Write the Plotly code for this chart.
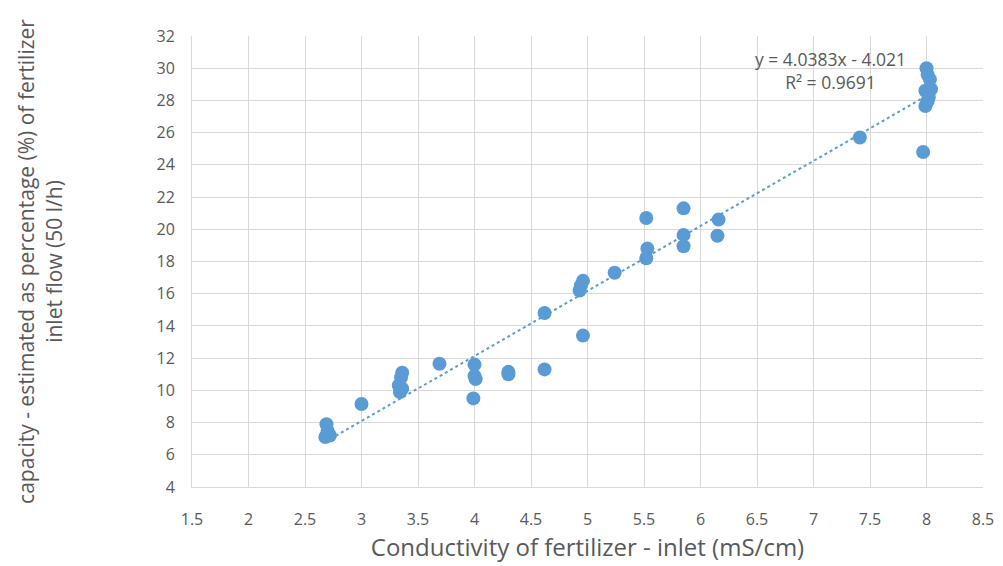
import plotly.graph_objects as go

conductivity = [2.69, 2.70, 2.68, 2.72, 3.0, 3.36, 3.35, 3.33, 3.34, 3.36, 3.69,
                4.0, 4.0, 4.01, 3.99, 4.3, 4.3, 4.62, 4.62, 4.96, 4.93, 4.96, 4.94,
                5.24, 5.52, 5.53, 5.52, 5.85, 5.85, 5.85, 6.16, 6.15, 7.41, 7.97,
                8.0, 8.01, 8.03, 7.99, 8.02, 8.01, 7.99, 8.04]
capacity = [7.9, 7.5, 7.1, 7.2, 9.15, 11.1, 10.8, 10.3, 9.9, 10.1, 11.65,
            11.6, 10.9, 10.7, 9.5, 11.15, 11.0, 11.3, 14.8, 13.4, 16.2, 16.8, 16.5,
            17.3, 20.7, 18.8, 18.2, 21.3, 19.65, 18.95, 20.6, 19.6, 25.7, 24.8,
            30.0, 29.6, 29.3, 28.6, 28.2, 27.95, 27.65, 28.7]

slope, intercept = 4.0383, -4.021
trend_x = [min(conductivity), max(conductivity)]
trend_y = [slope * v + intercept for v in trend_x]

x_ticks = [1.5, 2, 2.5, 3, 3.5, 4, 4.5, 5, 5.5, 6, 6.5, 7, 7.5, 8, 8.5]
y_ticks = list(range(4, 33, 2))

blue = "#5b9bd5"
grey_text = "#595959"
font_family = "Open Sans, Liberation Sans, sans-serif"
clear = "rgba(0,0,0,0)"

fig = go.Figure()
fig.add_trace(go.Scatter(x=trend_x, y=trend_y, mode="lines",
                         line=dict(color=blue, width=2, dash="dot"),
                         showlegend=False, hoverinfo="skip"))
fig.add_trace(go.Scatter(x=conductivity, y=capacity, mode="markers",
                         marker=dict(color=blue, size=14),
                         showlegend=False))

fig.add_annotation(x=7.15, y=29.85, xref="x", yref="y",
                   text="y = 4.0383x - 4.021<br>R² = 0.9691",
                   showarrow=False, align="center",
                   font=dict(family=font_family, size=17.5, color=grey_text))

fig.update_xaxes(range=[1.5, 8.5], tickvals=x_ticks,
                 ticktext=[("%g" % v) for v in x_ticks],
                 showgrid=True, gridcolor="#d9d9d9", gridwidth=1,
                 zeroline=False, showline=True, linecolor="#d9d9d9",
                 ticks="outside", ticklen=18, tickcolor=clear,
                 tickfont=dict(family=font_family, size=16, color=grey_text),
                 title=dict(text="Conductivity of fertilizer - inlet (mS/cm)",
                            font=dict(family=font_family, size=24, color=grey_text),
                            standoff=8))
fig.update_yaxes(range=[4, 32], tickvals=y_ticks,
                 showgrid=True, gridcolor="#d9d9d9", gridwidth=1,
                 zeroline=False, showline=True, linecolor="#d9d9d9",
                 ticks="outside", ticklen=13, tickcolor=clear,
                 tickfont=dict(family=font_family, size=16, color=grey_text),
                 title=dict(text="capacity - estimated as percentage (%) of fertilizer<br>inlet flow (50 l/h)",
                            font=dict(family=font_family, size=21, color=grey_text),
                            standoff=88))

fig.update_layout(width=1003, height=566,
                  margin=dict(l=184, r=28, t=28, b=87),
                  plot_bgcolor="white", paper_bgcolor="white")

fig.write_html("out.html")
